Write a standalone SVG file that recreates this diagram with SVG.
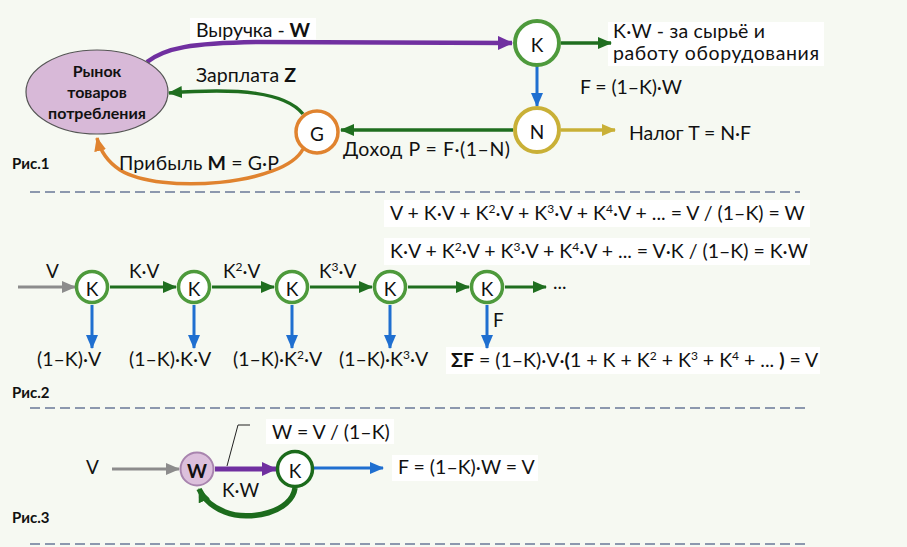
<svg xmlns="http://www.w3.org/2000/svg" width="907" height="547" viewBox="0 0 907 547">
<defs>
<style>
text{font-family:Lato,"Liberation Sans",sans-serif;fill:#111;}
.t{font-size:19.5px;}
.s{font-size:19px;}
.b{font-weight:bold;font-size:16px;}
.r{font-weight:bold;font-size:15px;}
.c{font-size:19px;text-anchor:middle;dominant-baseline:central;}
.dash{stroke:#6a7898;stroke-width:1.6;stroke-dasharray:10 5;fill:none;}
.lab{fill:#fff;}
</style>
<marker id="aP" markerUnits="userSpaceOnUse" markerWidth="16" markerHeight="14" refX="14" refY="7" orient="auto"><path d="M0,0 L15,7 L0,14 Z" fill="#7030a0"/></marker>
<marker id="aG" markerUnits="userSpaceOnUse" markerWidth="14" markerHeight="12" refX="13" refY="6" orient="auto"><path d="M0,0 L14,6 L0,12 Z" fill="#1f6e1f"/></marker>
<marker id="aB" markerUnits="userSpaceOnUse" markerWidth="14" markerHeight="12" refX="13" refY="6" orient="auto"><path d="M0,0 L14,6 L0,12 Z" fill="#1f6fd0"/></marker>
<marker id="aY" markerUnits="userSpaceOnUse" markerWidth="14" markerHeight="12" refX="13" refY="6" orient="auto"><path d="M0,0 L14,6 L0,12 Z" fill="#c9b037"/></marker>
<marker id="aO" markerUnits="userSpaceOnUse" markerWidth="14" markerHeight="12" refX="13" refY="6" orient="auto"><path d="M0,0 L14,6 L0,12 Z" fill="#e0832f"/></marker>
<marker id="aR" markerUnits="userSpaceOnUse" markerWidth="14" markerHeight="12" refX="13" refY="6" orient="auto"><path d="M0,0 L14,6 L0,12 Z" fill="#8c8c8c"/></marker>
</defs>
<rect width="907" height="547" fill="#f6f9f2"/>

<g id="label-bg">
<rect class="lab" x="190" y="18" width="126" height="25"/>
<rect class="lab" x="608" y="22" width="216" height="44"/>
<rect class="lab" x="384" y="200" width="426" height="27"/>
<rect class="lab" x="384" y="238" width="426" height="27"/>
<rect class="lab" x="446" y="347" width="374" height="27"/>
<rect class="lab" x="266" y="419" width="128" height="25"/>
<rect class="lab" x="392" y="455" width="146" height="26"/>
</g>

<g id="connectors" fill="none">
<path d="M147,62 C165,48 190,43 260,42 L512,43" stroke="#7030a0" stroke-width="4.5" marker-end="url(#aP)"/>
<path d="M561,43 L611,43" stroke="#1f6e1f" stroke-width="3.5" marker-end="url(#aG)"/>
<path d="M537,66 L537,106" stroke="#1f6fd0" stroke-width="3" marker-end="url(#aB)"/>
<path d="M561,130 L615,130" stroke="#c9b037" stroke-width="3.5" marker-end="url(#aY)"/>
<path d="M513,130 L341,130" stroke="#1f6e1f" stroke-width="3.5" marker-end="url(#aG)"/>
<path d="M303,114 C285,92 240,88 169,93" stroke="#1f6e1f" stroke-width="3.5" marker-end="url(#aG)"/>
<path d="M303,149 C285,185 160,195 120,170 C108,162 100,150 97,138" stroke="#e0832f" stroke-width="3.5" marker-end="url(#aO)"/>
<path d="M18,287 L75,287" stroke="#8c8c8c" stroke-width="3" marker-end="url(#aR)"/>
<path d="M110,287 L176,287" stroke="#1f6e1f" stroke-width="3" marker-end="url(#aG)"/>
<path d="M212,287 L274,287" stroke="#1f6e1f" stroke-width="3" marker-end="url(#aG)"/>
<path d="M310,287 L372,287" stroke="#1f6e1f" stroke-width="3" marker-end="url(#aG)"/>
<path d="M408,287 L469,287" stroke="#1f6e1f" stroke-width="3" marker-end="url(#aG)"/>
<path d="M505,287 L546,287" stroke="#1f6e1f" stroke-width="3" marker-end="url(#aG)"/>
<path d="M92,305 L92,348" stroke="#1f6fd0" stroke-width="3" marker-end="url(#aB)"/>
<path d="M194,305 L194,348" stroke="#1f6fd0" stroke-width="3" marker-end="url(#aB)"/>
<path d="M292,305 L292,348" stroke="#1f6fd0" stroke-width="3" marker-end="url(#aB)"/>
<path d="M390,305 L390,348" stroke="#1f6fd0" stroke-width="3" marker-end="url(#aB)"/>
<path d="M487,305 L487,348" stroke="#1f6fd0" stroke-width="3" marker-end="url(#aB)"/>
<path d="M112,469 L179,469" stroke="#8c8c8c" stroke-width="3" marker-end="url(#aR)"/>
<path d="M215,469 L276,469" stroke="#7030a0" stroke-width="5" marker-end="url(#aP)"/>
<path d="M314,468 L383,468" stroke="#1f6fd0" stroke-width="3" marker-end="url(#aB)"/>
<path d="M295,488 C292,512 250,522 225,512 C210,506 203,498 199,489" stroke="#1c6b1c" stroke-width="5.5" marker-end="url(#aG)"/>
<path d="M227,466 L238,425 L250,425" stroke="#222" stroke-width="1"/>
</g>

<line class="dash" x1="30" y1="192" x2="800" y2="192"/>
<line class="dash" x1="30" y1="408" x2="805" y2="408"/>
<line class="dash" x1="30" y1="544" x2="805" y2="544"/>

<g id="market">
<ellipse cx="97" cy="92" rx="71" ry="42" fill="#d8b9d8" stroke="#555" stroke-width="1.2"/>
<text class="b" x="97" y="77" text-anchor="middle">Рынок</text>
<text class="b" x="97" y="98" text-anchor="middle">товаров</text>
<text class="b" x="97" y="119" text-anchor="middle">потребления</text>
</g>
<g id="node-K1"><circle cx="537" cy="43" r="22" fill="#fff" stroke="#4e9a3c" stroke-width="4"/><text class="c" x="537" y="44">K</text></g>
<g id="node-N"><circle cx="537" cy="130" r="22" fill="#fff" stroke="#c9b037" stroke-width="4"/><text class="c" x="537" y="131">N</text></g>
<g id="node-G"><circle cx="317" cy="132" r="21" fill="#fff" stroke="#e0832f" stroke-width="3.5"/><text class="c" x="317" y="133">G</text></g>

<g id="labels-fig1">
<text class="t" x="196" y="37" textLength="114">Выручка - <tspan font-weight="bold">W</tspan></text>
<text class="t" x="196" y="82" textLength="100">Зарплата <tspan font-weight="bold">Z</tspan></text>
<text class="t" x="119" y="170" textLength="160">Прибыль <tspan font-weight="bold">M</tspan> = G·P</text>
<text class="t" x="343" y="156" textLength="167">Доход  P = F·(1–N)</text>
<text class="t" x="613" y="38" textLength="152">K·W - за сырьё и</text>
<text class="t" x="613" y="60" textLength="206">работу оборудования</text>
<text class="t" x="580" y="94" textLength="102">F = (1–K)·W</text>
<text class="t" x="629" y="140" textLength="122">Налог T = N·F</text>
<text class="r" x="12" y="169">Рис.1</text>
</g>

<g id="node-K2a"><circle cx="92" cy="287" r="15.5" fill="#fff" stroke="#4e9a3c" stroke-width="3.5"/><text class="c" x="92" y="288">K</text></g>
<g id="node-K2b"><circle cx="194" cy="287" r="15.5" fill="#fff" stroke="#4e9a3c" stroke-width="3.5"/><text class="c" x="194" y="288">K</text></g>
<g id="node-K2c"><circle cx="292" cy="287" r="15.5" fill="#fff" stroke="#4e9a3c" stroke-width="3.5"/><text class="c" x="292" y="288">K</text></g>
<g id="node-K2d"><circle cx="390" cy="287" r="15.5" fill="#fff" stroke="#4e9a3c" stroke-width="3.5"/><text class="c" x="390" y="288">K</text></g>
<g id="node-K2e"><circle cx="487" cy="287" r="15.5" fill="#fff" stroke="#4e9a3c" stroke-width="3.5"/><text class="c" x="487" y="288">K</text></g>

<g id="labels-fig2">
<text class="t" x="390" y="220">V + K·V + K<tspan font-size="12" dy="-7">2</tspan><tspan dy="7">·V + K</tspan><tspan font-size="12" dy="-7">3</tspan><tspan dy="7">·V + K</tspan><tspan font-size="12" dy="-7">4</tspan><tspan dy="7">·V + ... = V / (1–K) = W</tspan></text>
<text class="t" x="390" y="258">K·V + K<tspan font-size="12" dy="-7">2</tspan><tspan dy="7">·V + K</tspan><tspan font-size="12" dy="-7">3</tspan><tspan dy="7">·V + K</tspan><tspan font-size="12" dy="-7">4</tspan><tspan dy="7">·V + ... = V·K / (1–K) = K·W</tspan></text>
<text class="s" x="46" y="278">V</text>
<text class="s" x="129" y="278">K·V</text>
<text class="s" x="223" y="278">K<tspan font-size="12" dy="-7">2</tspan><tspan dy="7">·V</tspan></text>
<text class="s" x="319" y="278">K<tspan font-size="12" dy="-7">3</tspan><tspan dy="7">·V</tspan></text>
<text class="s" x="553" y="289">...</text>
<text class="s" x="493" y="327">F</text>
<text class="t" x="37" y="366">(1–K)·V</text>
<text class="t" x="129" y="366">(1–K)·K·V</text>
<text class="t" x="233" y="366">(1–K)·K<tspan font-size="12" dy="-7">2</tspan><tspan dy="7">·V</tspan></text>
<text class="t" x="339" y="366">(1–K)·K<tspan font-size="12" dy="-7">3</tspan><tspan dy="7">·V</tspan></text>
<text class="t" x="451" y="367"><tspan font-weight="bold">ΣF</tspan> = (1–K)·V·<tspan font-weight="bold">(</tspan>1 + K + K<tspan font-size="12" dy="-7">2</tspan><tspan dy="7"> + K</tspan><tspan font-size="12" dy="-7">3</tspan><tspan dy="7"> + K</tspan><tspan font-size="12" dy="-7">4</tspan><tspan dy="7"> + ... </tspan><tspan font-weight="bold">)</tspan> = V</text>
<text class="r" x="12" y="398">Рис.2</text>
</g>

<g id="node-W"><circle cx="197" cy="469" r="16.5" fill="#dcc0dc" stroke="#a884ae" stroke-width="2"/><text class="c" x="197" y="470" font-weight="bold">W</text></g>
<g id="node-K3"><circle cx="295" cy="469" r="17.5" fill="#fff" stroke="#1c6b1c" stroke-width="3.5"/><text class="c" x="295" y="470">K</text></g>

<g id="labels-fig3">
<text class="s" x="86" y="474">V</text>
<text class="t" x="272" y="439">W = V / (1–K)</text>
<text class="t" x="398" y="474">F = (1–K)·W = V</text>
<text class="s" x="222" y="497">K·W</text>
<text class="r" x="12" y="523">Рис.3</text>
</g>
</svg>
